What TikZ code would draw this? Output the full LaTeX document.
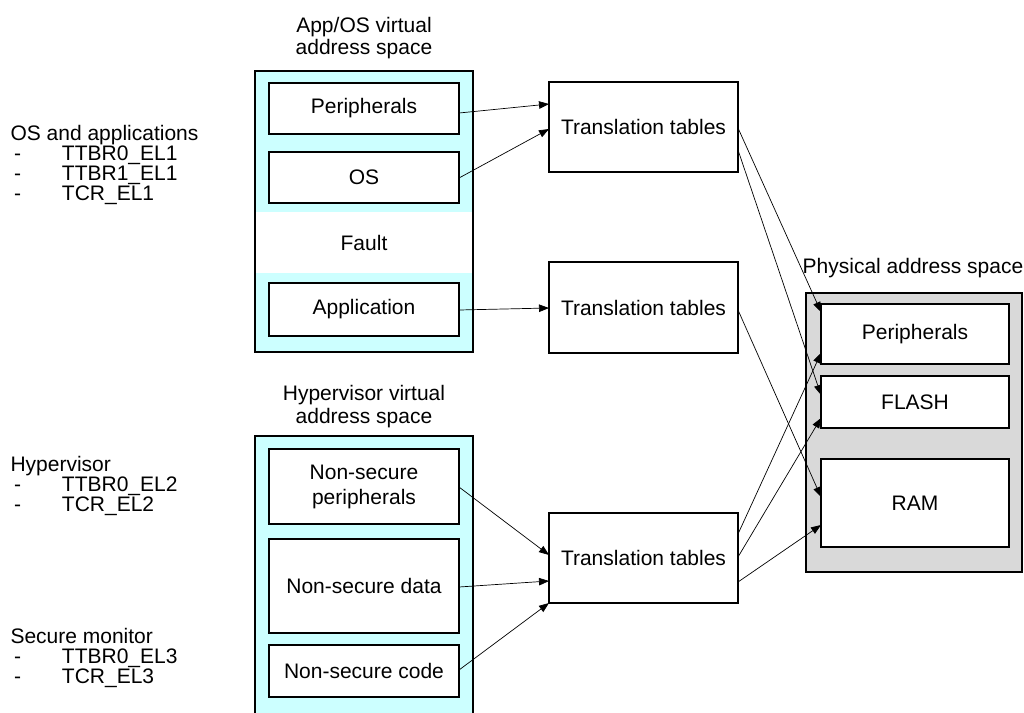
\documentclass[tikz,border=0pt]{standalone}
\usepackage{fontspec}
\setmainfont{Liberation Sans}
\usetikzlibrary{arrows.meta}
\definecolor{vcyan}{HTML}{CCFFFF}
\definecolor{pgray}{HTML}{D9D9D9}
\begin{document}
\begin{tikzpicture}[x=1pt,y=-1pt,
  font=\fontsize{21}{25}\selectfont,
  box/.style={draw=black, line width=1.1pt, fill=white, inner sep=0pt, outer sep=0pt, align=center},
  area/.style={inner sep=0pt, outer sep=0pt, line width=1.1pt},
  conn/.style={line width=0.7pt, -{Triangle[length=10pt,width=7.5pt]}},
  lbl/.style={anchor=base west, inner sep=0pt, outer sep=0pt},
  ttl/.style={anchor=base, inner sep=0pt, outer sep=0pt},
]
\useasboundingbox (0,0) rectangle (1024,712);

% ---------- left register labels ----------
\node[lbl] (osapp) at (10.5,140.5) {OS and applications};
\node[lbl] (r1) at (14,160.5) {\makebox[48pt][l]{-}TTBR0\_EL1};
\node[lbl] (r2) at (14,180.5) {\makebox[48pt][l]{-}TTBR1\_EL1};
\node[lbl] (r3) at (14,200.5) {\makebox[48pt][l]{-}TCR\_EL1};

\node[lbl] (hyp) at (10.5,471.5) {Hypervisor};
\node[lbl] (h1) at (14,491.5) {\makebox[48pt][l]{-}TTBR0\_EL2};
\node[lbl] (h2) at (14,511.5) {\makebox[48pt][l]{-}TCR\_EL2};

\node[lbl] (sec) at (10.5,643) {Secure monitor};
\node[lbl] (s1) at (14,663) {\makebox[48pt][l]{-}TTBR0\_EL3};
\node[lbl] (s2) at (14,683) {\makebox[48pt][l]{-}TCR\_EL3};

% ---------- App/OS virtual address space ----------
\node[ttl] (apptitle1) at (364,32) {App/OS virtual};
\node[ttl] (apptitle2) at (364,54) {address space};
\node[area, fill=vcyan, minimum width=218pt, minimum height=281pt] (appspace) at (364,211.5) {};
\node[area, fill=white, minimum width=216pt, minimum height=61pt] (fault) at (364,242.5) {Fault};
\draw[line width=1.1pt] (appspace.north west) rectangle (appspace.south east);
\node[box, minimum width=190pt, minimum height=51pt] (vper) at (364,108.5) {Peripherals};
\node[box, minimum width=190pt, minimum height=51pt] (vos) at (364,177.5) {OS};
\node[box, minimum width=190pt, minimum height=53pt] (vapp) at (364,309.5) {Application};

% ---------- Hypervisor virtual address space ----------
\node[ttl] (hyptitle1) at (364,400) {Hypervisor virtual};
\node[ttl] (hyptitle2) at (364,423) {address space};
\node[area, fill=vcyan, minimum width=218pt, minimum height=278pt] (hypspace) at (364,575) {};
\draw[line width=1.1pt] (hypspace.south west) -- (hypspace.north west) -- (hypspace.north east) -- (hypspace.south east);
\node[box, minimum width=190pt, minimum height=75pt] (nsper) at (364,486.5) {Non-secure\\peripherals};
\node[box, minimum width=190pt, minimum height=94pt] (nsdata) at (364,586) {Non-secure data};
\node[box, minimum width=190pt, minimum height=52pt] (nscode) at (364,671) {Non-secure code};

% ---------- Translation tables ----------
\node[box, minimum width=189pt, minimum height=90pt] (tt1) at (643.5,127) {Translation tables};
\node[box, minimum width=189pt, minimum height=91pt] (tt2) at (643.5,307.5) {Translation tables};
\node[box, minimum width=189pt, minimum height=90pt] (tt3) at (643.5,558) {Translation tables};

% ---------- Physical address space ----------
\node[ttl] (phystitle) at (913,273) {Physical address space};
\node[area, draw=black, fill=pgray, minimum width=216pt, minimum height=279pt] (phys) at (914,432.5) {};
\node[box, minimum width=188pt, minimum height=60pt] (pper) at (915,334) {Peripherals};
\node[box, minimum width=188pt, minimum height=52pt] (flash) at (915,402) {FLASH};
\node[box, minimum width=188pt, minimum height=88pt] (ram) at (915,503) {RAM};

% ---------- connectors (yshift: positive = up) ----------
\draw[conn] ([yshift=-4.5pt]vper.east) -- ([yshift=23pt]tt1.west);
\draw[conn] ([yshift=-0.5pt]vos.east) -- ([yshift=-2pt]tt1.west);
\draw[conn] ([yshift=-0.5pt]vapp.east) -- ([yshift=-0.5pt]tt2.west);
\draw[conn] ([yshift=-0.5pt]nsper.east) -- ([yshift=3pt]tt3.west);
\draw[conn] ([yshift=-1pt]nsdata.east) -- ([yshift=-23pt]tt3.west);
\draw[conn] ([yshift=1pt]nscode.east) -- (tt3.south west);

\draw[conn] ([yshift=-1pt]tt1.east) -- ([yshift=22pt]pper.west);
\draw[conn] ([yshift=-23pt]tt1.east) -- ([yshift=7pt]flash.west);
\draw[conn] ([yshift=-2.5pt]tt2.east) -- ([yshift=6pt]ram.west);
\draw[conn] ([yshift=24pt]tt3.east) -- ([yshift=-19pt]pper.west);
\draw[conn] ([yshift=1pt]tt3.east) -- ([yshift=-16pt]flash.west);
\draw[conn] ([yshift=-24pt]tt3.east) -- ([yshift=-22pt]ram.west);
\end{tikzpicture}
\end{document}
